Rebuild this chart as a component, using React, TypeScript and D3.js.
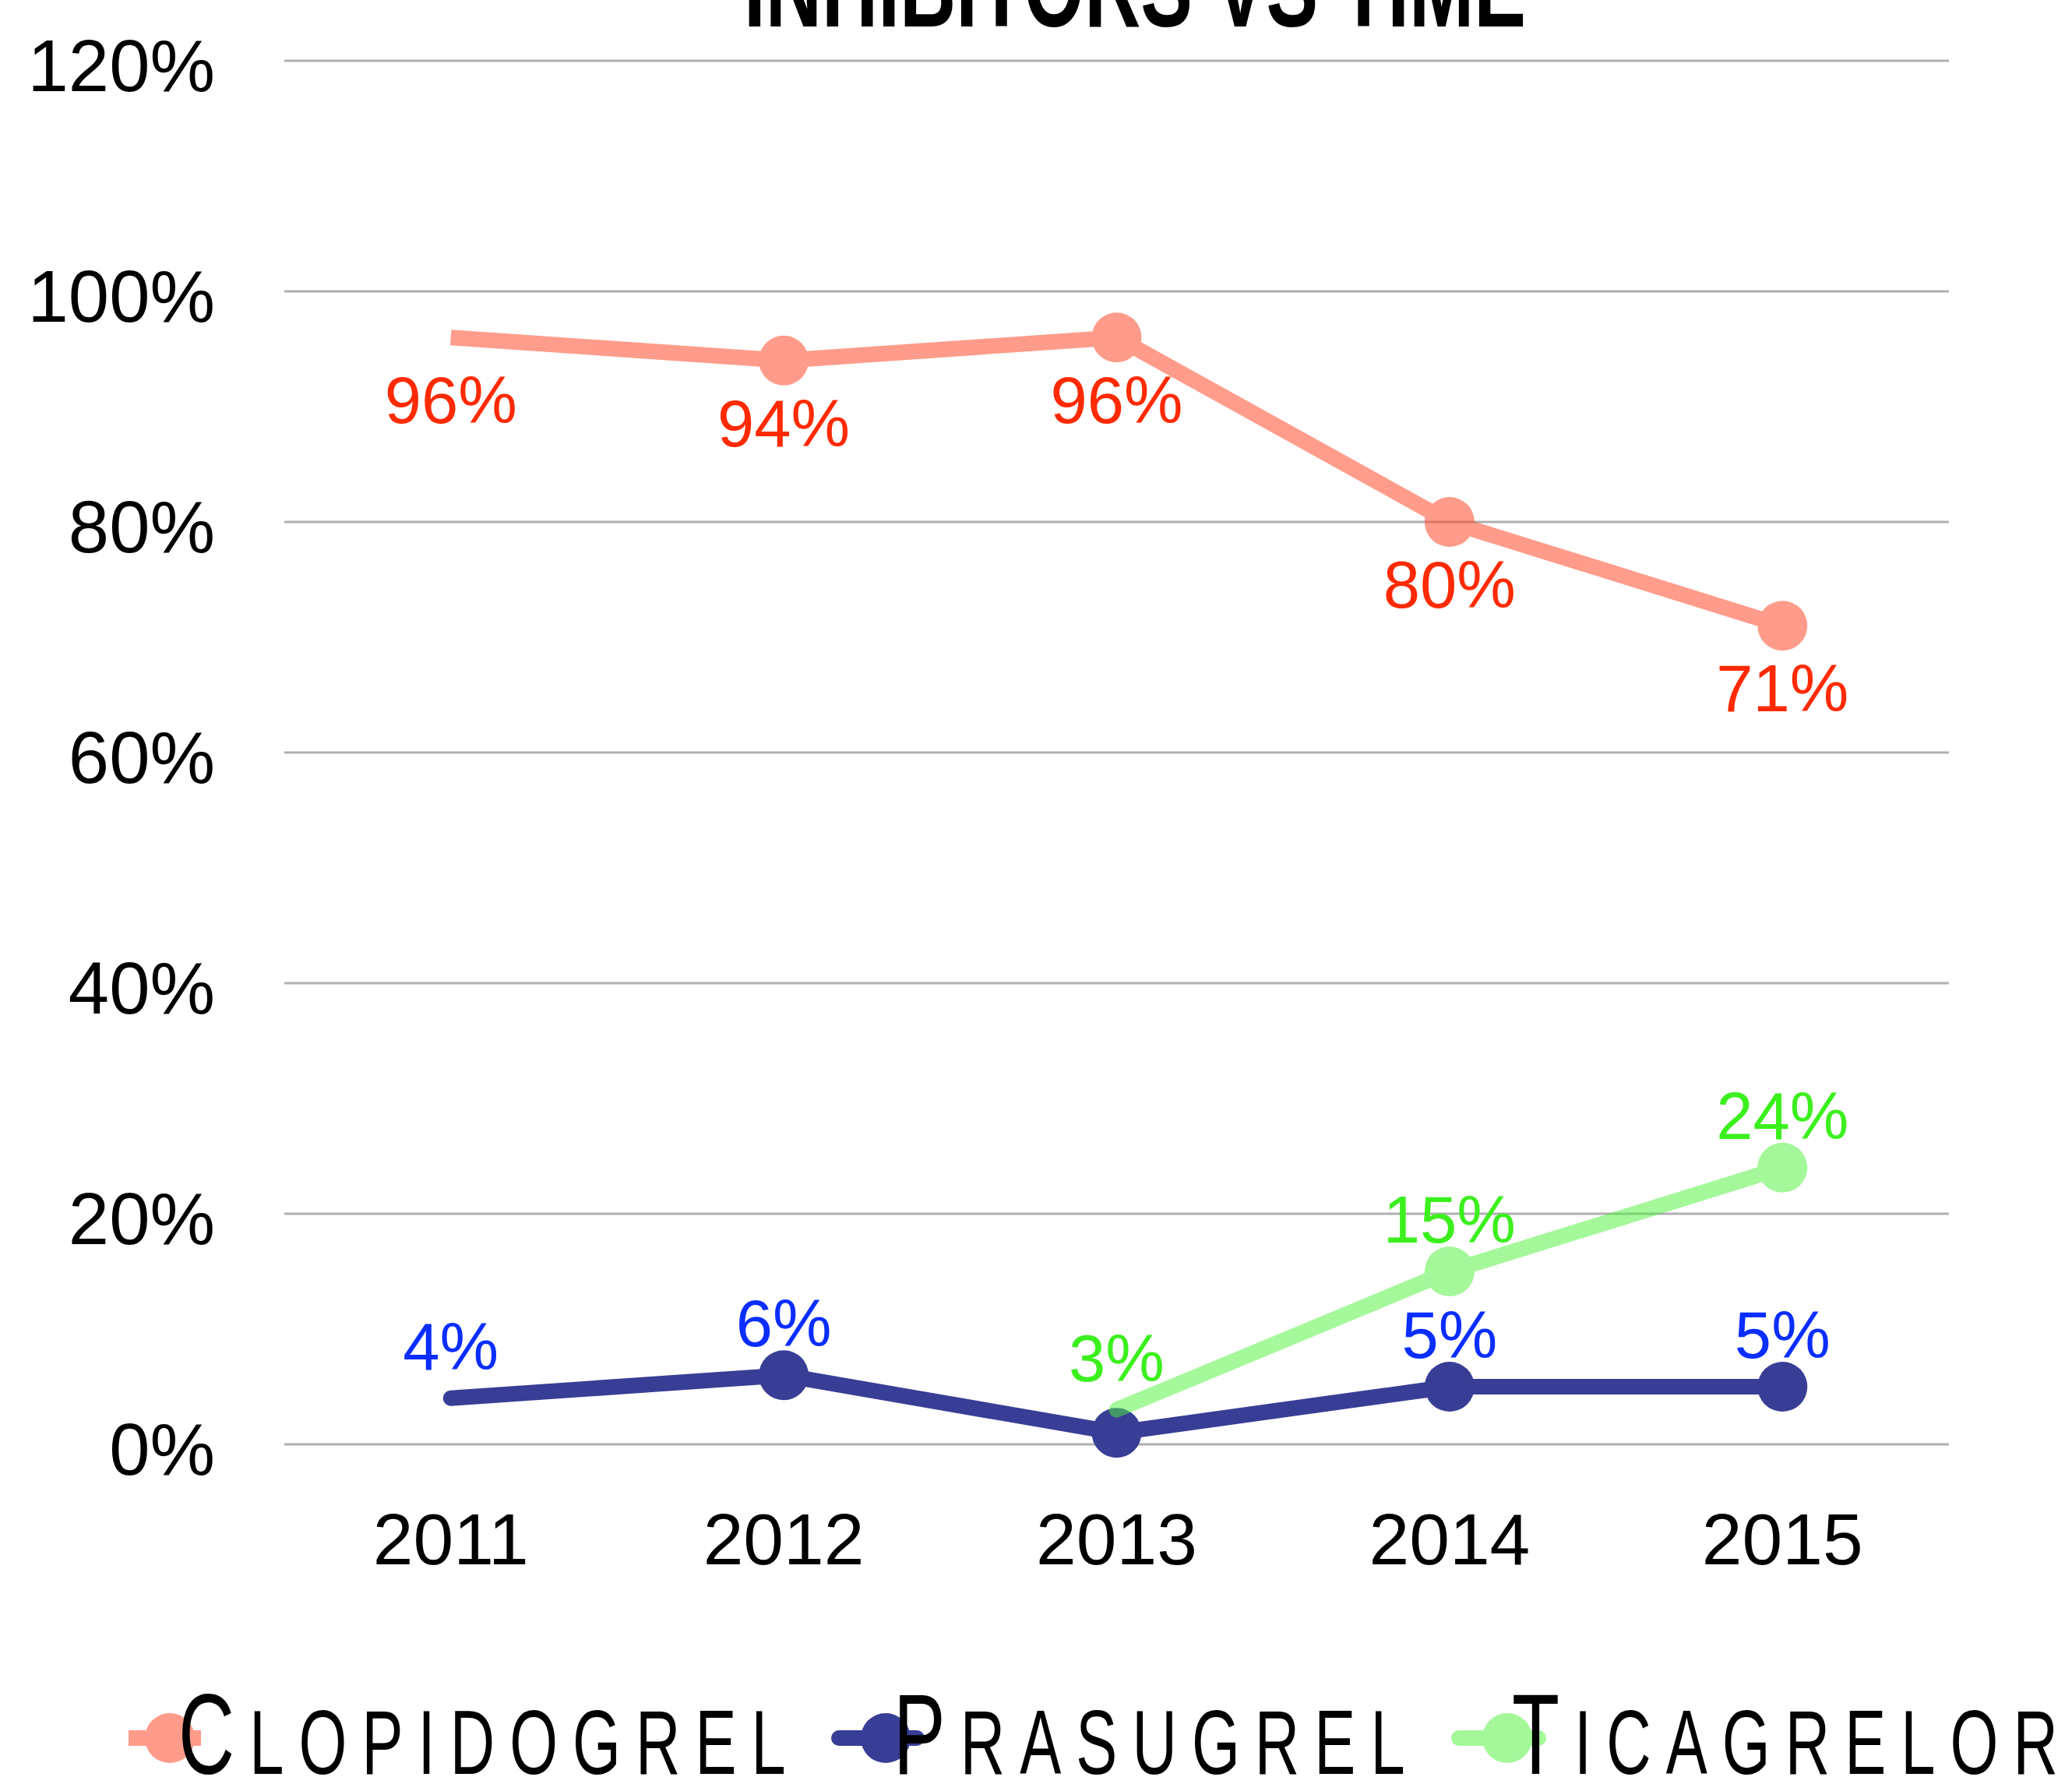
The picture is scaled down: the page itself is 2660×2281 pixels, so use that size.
import * as d3 from "d3";

const years = ["2011", "2012", "2013", "2014", "2015"];
const clopidogrel = [0.96, 0.94, 0.96, 0.8, 0.71];
const prasugrel = [0.04, 0.06, 0.01, 0.05, 0.05];
const ticagrelor: (number | null)[] = [null, null, 0.03, 0.15, 0.24];
const yTicks = [0, 0.2, 0.4, 0.6, 0.8, 1.0, 1.2];

const width = 2660;
const height = 2281;
const font = "'Liberation Sans', Arial, sans-serif";

const series = [
  { name: "Clopidogrel", values: clopidogrel, color: "#ff3a17", opacity: 0.5, label: "#ff2a00", cap: "butt", below: true, hide: [] as number[] },
  { name: "Prasugrel", values: prasugrel, color: "#383d96", opacity: 1, label: "#0a2eff", cap: "round", below: false, hide: [2] },
  { name: "Ticagrelor", values: ticagrelor, color: "#4cf336", opacity: 0.5, label: "#3cf01e", cap: "round", below: false, hide: [] as number[] },
];

// legend item: line start x, marker center x, text start x
const legendPos = [
  { lx: 165, cx: 218, tx: 229 },
  { lx: 1077, cx: 1137, tx: 1147 },
  { lx: 1873, cx: 1935, tx: 1941 },
];

const App = () => {
  const x = d3.scaleBand().domain(years).range([365, 2502]).padding(0);
  const y = d3.scaleLinear().domain([0, 1.2]).range([1854, 78]);
  const cx = (i: number) => (x(years[i]) as number) + x.bandwidth() / 2;

  const line = d3
    .line<number | null>()
    .defined((d) => d != null)
    .x((_, i) => cx(i))
    .y((d) => y(d as number));

  const fmt = d3.format(".0%");

  return (
    <svg width={width} height={height} style={{ position: "absolute", left: 0, top: 0, background: "#fff" }}>
      <rect width={width} height={height} fill="#fff" />
      {/* title, cut at the top */}
      <text
        x={955}
        y={34}
        fontFamily={font}
        fontWeight="bold"
        fontSize={147}
        textLength={1004}
        lengthAdjust="spacingAndGlyphs"
      >
        INHIBITORS VS TIME
      </text>

      {/* grid */}
      {yTicks.map((t) => (
        <g key={t}>
          <line x1={365} x2={2502} y1={y(t)} y2={y(t)} stroke="#b0b0b0" strokeWidth={3} />
          <text x={276} y={y(t) + 39} textAnchor="end" fontFamily={font} fontSize={94} fill="#000">
            {fmt(t)}
          </text>
        </g>
      ))}

      {years.map((yr, i) => (
        <text key={yr} x={cx(i)} y={2008} textAnchor="middle" fontFamily={font} fontSize={93} fill="#000">
          {yr}
        </text>
      ))}

      {/* series */}
      {series.map((s) => {
        const first = s.values.findIndex((v) => v != null);
        return (
          <g key={s.name} opacity={s.opacity}>
            <path
              d={line(s.values) || ""}
              fill="none"
              stroke={s.color}
              strokeWidth={20}
              strokeLinecap={s.cap as any}
            />
            {s.values.map((v, i) =>
              v != null && i > first ? <circle key={i} cx={cx(i)} cy={y(v)} r={32} fill={s.color} /> : null
            )}
          </g>
        );
      })}

      {/* data labels */}
      {series.map((s) =>
        s.values.map((v, i) =>
          v == null || s.hide.includes(i) ? null : (
            <text
              key={s.name + i}
              x={cx(i)}
              y={s.below ? y(v) + 110 : y(v) - 37}
              textAnchor="middle"
              fontFamily={font}
              fontSize={85}
              fill={s.label}
            >
              {fmt(v)}
            </text>
          )
        )
      )}

      {/* legend */}
      {series.map((s, k) => {
        const p = legendPos[k];
        const ly = 2231;
        return (
          <g key={s.name}>
            <g opacity={s.opacity}>
              <line x1={p.lx} x2={p.cx + 40} y1={ly} y2={ly} stroke={s.color} strokeWidth={20} strokeLinecap={s.cap as any} />
              <circle cx={p.cx} cy={ly} r={32} fill={s.color} />
            </g>
            <text
              transform={`translate(${p.tx},2277) scale(0.68,1)`}
              fontFamily={font}
              letterSpacing={28}
              fill="#000"
            >
              <tspan fontSize={147}>{s.name[0].toUpperCase()}</tspan>
              <tspan fontSize={117}>{s.name.slice(1).toUpperCase()}</tspan>
            </text>
          </g>
        );
      })}
    </svg>
  );
};

export default App;
